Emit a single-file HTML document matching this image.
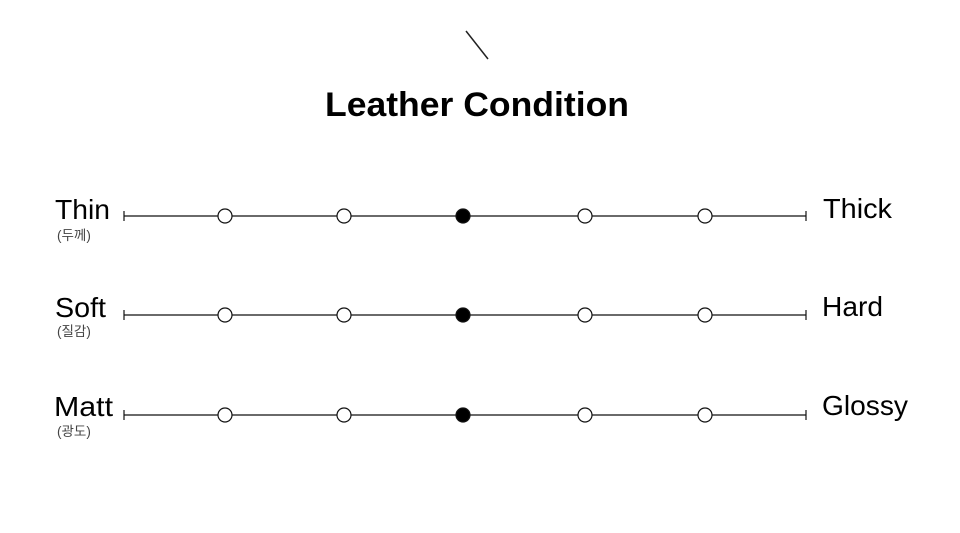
<!DOCTYPE html>
<html><head><meta charset="utf-8"><style>html,body{margin:0;padding:0;background:#fff}</style></head>
<body>
<svg width="960" height="528" xmlns="http://www.w3.org/2000/svg" font-family="Liberation Sans, sans-serif">
<rect width="960" height="528" fill="#fff"/>
<line x1="466" y1="31" x2="488" y2="59" stroke="#222" stroke-width="1.5"/>
<text x="477" y="116" text-anchor="middle" font-size="34" font-weight="bold" textLength="304" lengthAdjust="spacingAndGlyphs">Leather Condition</text>
<g stroke="#111" stroke-width="1.2">
<line x1="124" y1="216" x2="806" y2="216"/><line x1="124" y1="211" x2="124" y2="221"/><line x1="806" y1="211" x2="806" y2="221"/>
<line x1="124" y1="315" x2="806" y2="315"/><line x1="124" y1="310" x2="124" y2="320"/><line x1="806" y1="310" x2="806" y2="320"/>
<line x1="124" y1="415" x2="806" y2="415"/><line x1="124" y1="410" x2="124" y2="420"/><line x1="806" y1="410" x2="806" y2="420"/>
</g>
<g stroke="#111" stroke-width="1.2" fill="#fff">
<circle cx="225" cy="216" r="7"/><circle cx="344" cy="216" r="7"/><circle cx="463" cy="216" r="7" fill="#000"/><circle cx="585" cy="216" r="7"/><circle cx="705" cy="216" r="7"/>
<circle cx="225" cy="315" r="7"/><circle cx="344" cy="315" r="7"/><circle cx="463" cy="315" r="7" fill="#000"/><circle cx="585" cy="315" r="7"/><circle cx="705" cy="315" r="7"/>
<circle cx="225" cy="415" r="7"/><circle cx="344" cy="415" r="7"/><circle cx="463" cy="415" r="7" fill="#000"/><circle cx="585" cy="415" r="7"/><circle cx="705" cy="415" r="7"/>
</g>
<g font-size="27.5" fill="#000">
<text x="55" y="219" textLength="55" lengthAdjust="spacingAndGlyphs">Thin</text><text x="823" y="218" textLength="69" lengthAdjust="spacingAndGlyphs">Thick</text>
<text x="55" y="317" textLength="51" lengthAdjust="spacingAndGlyphs">Soft</text><text x="822" y="316" textLength="61" lengthAdjust="spacingAndGlyphs">Hard</text>
<text x="54" y="416" textLength="59" lengthAdjust="spacingAndGlyphs">Matt</text><text x="822" y="415" textLength="86" lengthAdjust="spacingAndGlyphs">Glossy</text>
</g>
<g font-size="13.5" fill="#444" font-family="Liberation Sans, Noto Sans CJK KR, sans-serif">
<text x="57" y="240">(두께)</text>
<text x="57" y="336">(질감)</text>
<text x="57" y="436">(광도)</text>
</g>
</svg>
</body></html>
